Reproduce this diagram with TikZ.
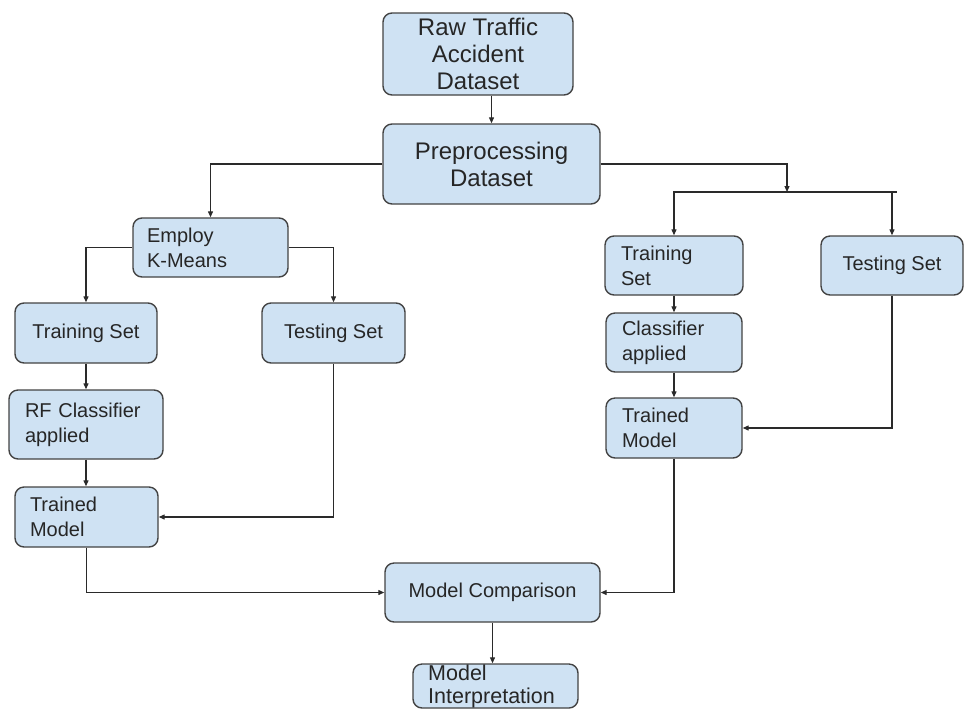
\documentclass[tikz,border=0pt]{standalone}
\usepackage{fontspec}
\setmainfont{Liberation Sans}
\usetikzlibrary{arrows.meta}
\definecolor{boxfill}{HTML}{CFE2F3}
\definecolor{boxline}{HTML}{434343}
\definecolor{conn}{HTML}{2A2A2A}
\definecolor{txt}{HTML}{262626}
\tikzset{
  box/.style={draw=boxline, fill=boxfill, line width=1.4pt, rounded corners=9pt,
    inner sep=0pt, text=txt, font=\fontsize{20}{25}\selectfont},
  bigbox/.style={box, font=\fontsize{24}{27}\selectfont, align=center},
  cbox/.style={box, align=center},
  lbox/.style={box, align=left},
  link/.style={draw=conn, line width=1.2pt, -{Triangle[length=6pt,width=5pt]}},
  plain/.style={draw=conn, line width=1.2pt}
}
\begin{document}
\begin{tikzpicture}[x=1pt,y=-1pt]
\useasboundingbox (0,0) rectangle (965,710);
% nodes
\node[bigbox, minimum width=190pt, minimum height=82pt] (raw) at (478,54) {Raw Traffic\\Accident\\Dataset};
\node[bigbox, minimum width=217pt, minimum height=80pt] (prep) at (491.5,164) {Preprocessing\\Dataset};
\node[lbox, minimum width=155pt, minimum height=59pt, text width=127pt] (employ) at (210.5,247.5) {Employ\\K-Means};
\node[cbox, minimum width=142pt, minimum height=60pt] (trainL) at (86,333) {Training Set};
\node[cbox, minimum width=143pt, minimum height=60pt] (testL) at (333.5,333) {Testing Set};
\node[lbox, minimum width=154pt, minimum height=69pt, text width=122pt] (rf) at (86,424.5) {RF Classifier\\applied};
\node[lbox, minimum width=143pt, minimum height=60pt, text width=113pt] (trainedL) at (86.5,517) {Trained\\Model};
\node[lbox, minimum width=138pt, minimum height=59pt, text width=106pt] (trainR) at (674,265.5) {Training\\Set};
\node[lbox, minimum width=136pt, minimum height=59pt, text width=104pt] (classR) at (674,342.5) {Classifier\\applied};
\node[lbox, minimum width=136pt, minimum height=60pt, text width=104pt] (trainedR) at (674,428) {Trained\\Model};
\node[cbox, minimum width=142pt, minimum height=59pt] (testR) at (892,265.5) {Testing Set};
\node[cbox, minimum width=215pt, minimum height=59pt] (comp) at (492.5,592.5) {Model Comparison};
\node[box, minimum width=165pt, minimum height=44pt] (interp) at (495.5,686) {};
\node[anchor=north west, inner sep=0pt, align=left, text=txt, font=\fontsize{21.5}{23}\selectfont] (interptext) at (428,664.5) {Model\\Interpretation};
% helper coordinates
\coordinate (split) at (787,192);
\coordinate (hl) at (673,192);
\coordinate (hr) at (897,192);
% connectors
\draw[link] (prep.north |- raw.south) -- (prep.north);
\draw[link] (prep.west) -| (employ.north);
\draw[link] (employ.west) -| (trainL.north);
\draw[link] (employ.east) -| (testL.north);
\draw[link] (trainL.south) -- (rf.north);
\draw[link] (rf.south) -- (rf.south |- trainedL.north);
\draw[link] (testL.south) |- (trainedL.east);
\draw[link] (trainedL.south) |- (comp.west);
\draw[link] (prep.east) -| (split);
\draw[plain] (hl) -- (hr);
\draw[link] (trainR.north |- split) -- (trainR.north);
\draw[link] (testR.north |- split) -- (testR.north);
\draw[link] (trainR.south) -- (classR.north);
\draw[link] (classR.south) -- (trainedR.north);
\draw[link] (testR.south) |- (trainedR.east);
\draw[link] (trainedR.south) |- (comp.east);
\draw[link] (comp.south) -- (comp.south |- interp.north);
\end{tikzpicture}
\end{document}
